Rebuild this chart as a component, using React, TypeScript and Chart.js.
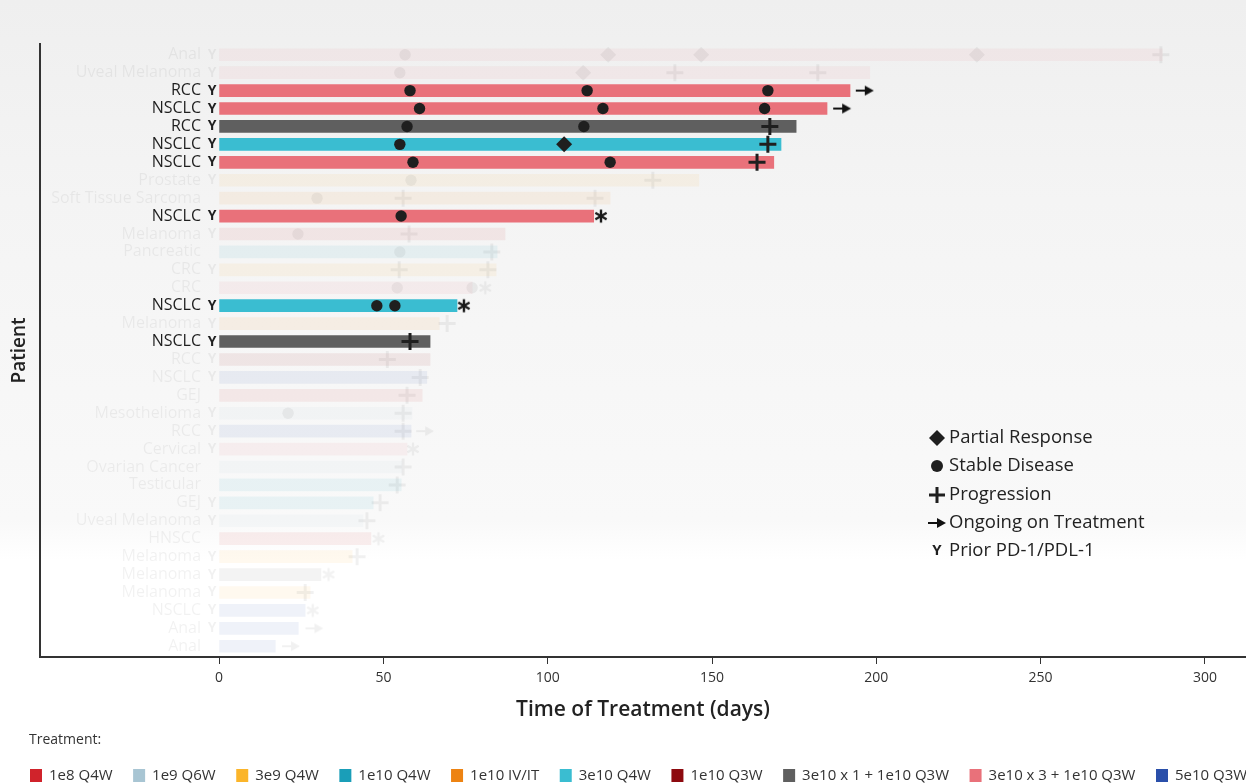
import React, { useEffect, useRef } from 'react';
import { Chart, registerables } from 'chart.js';

Chart.register(...registerables);

// ---------- data ----------
const treatments = ['1e8 Q4W', '1e9 Q6W', '3e9 Q4W', '1e10 Q4W', '1e10 IV/IT', '3e10 Q4W', '1e10 Q3W', '3e10 x 1 + 1e10 Q3W', '3e10 x 3 + 1e10 Q3W', '5e10 Q3W'];
const treatmentColors = ['#d0232b', '#a8c5d3', '#fbb52a', '#1a9eb8', '#ed8312', '#3abdd1', '#8d0a0f', '#5f5f5f', '#e9717a', '#2a4faa'];

const patients = ['Anal', 'Uveal Melanoma', 'RCC', 'NSCLC', 'RCC', 'NSCLC', 'NSCLC', 'Prostate', 'Soft Tissue Sarcoma', 'NSCLC', 'Melanoma', 'Pancreatic', 'CRC', 'CRC', 'NSCLC', 'Melanoma', 'NSCLC', 'RCC', 'NSCLC', 'GEJ', 'Mesothelioma', 'RCC', 'Cervical', 'Ovarian Cancer', 'Testicular', 'GEJ', 'Uveal Melanoma', 'HNSCC', 'Melanoma', 'Melanoma', 'Melanoma', 'NSCLC', 'Anal', 'Anal'];
const durations = [287, 198, 192, 185, 175.6, 171, 168.8, 146, 119, 114, 87, 84.6, 84.3, 77, 72.4, 67, 64.2, 64.2, 63.2, 61.8, 58.7, 58.4, 57.2, 55.6, 55.4, 46.9, 43.8, 46.2, 40.5, 31, 27.7, 26.2, 24.1, 17.1];
const rowTreatment = [8, 8, 8, 8, 7, 5, 8, 2, 4, 8, 0, 3, 2, 8, 5, 4, 7, 6, 9, 0, 1, 9, 8, 1, 3, 3, 1, 0, 2, 7, 2, 9, 9, 9];
const priorPD1 = [1, 1, 1, 1, 1, 1, 1, 1, 0, 1, 1, 0, 1, 0, 1, 1, 1, 1, 1, 0, 1, 1, 1, 0, 0, 1, 1, 0, 1, 1, 1, 1, 1, 0];
const highlightedRows = [2, 3, 4, 5, 6, 9, 14, 16];

// [row, day]
const partialResponse = [[0, 118.4], [0, 146.7], [0, 230.6], [1, 110.8], [5, 105]];
const stableDisease = [[0, 56.6], [1, 55], [2, 58.1], [2, 112], [2, 167], [3, 61], [3, 116.8], [3, 166], [4, 57.2], [4, 111], [5, 55], [6, 59], [6, 119], [7, 58.4], [8, 29.8], [9, 55.4], [10, 24], [11, 55], [13, 54.2], [13, 77], [14, 48], [14, 53.5], [20, 21]];
const progression = [[0, 286.6], [1, 138.7], [1, 182.2], [4, 167.6], [5, 167], [6, 163.7], [7, 132], [8, 56], [8, 114.4], [10, 57.8], [11, 83], [12, 54.8], [12, 81.8], [15, 69.4], [16, 58.1], [17, 51.2], [18, 61.2], [19, 57.2], [20, 56], [21, 56], [23, 56], [24, 54.2], [25, 49], [26, 45], [28, 42], [30, 26.2]];
const ongoing = [[2, 196.5], [3, 189.6], [21, 62.7], [32, 29], [33, 21.9]];
const asterisks = [[9, 116.2], [13, 81], [14, 74.5], [22, 59], [27, 48.5], [29, 33.3], [31, 28.5]];

const xTicks = [0, 50, 100, 150, 200, 250, 300];
const symbolLegend = ['Partial Response', 'Stable Disease', 'Progression', 'Ongoing on Treatment', 'Prior PD-1/PDL-1'];

// ---------- helpers ----------
const FONT = '"Open Sans", "DejaVu Sans", sans-serif';
const hiSet = new Set(highlightedRows);
const INK = '#1f1f1f';
const FADE_A = 0.055;
const FADE_INK = `rgba(0,0,0,${FADE_A})`;
const ink = (row: number) => (hiSet.has(row) ? INK : FADE_INK);

function hexA(hex: string, a: number) {
  const n = parseInt(hex.slice(1), 16);
  return `rgba(${(n >> 16) & 255},${(n >> 8) & 255},${n & 255},${a})`;
}

function makeArrow(color: string) {
  const c = document.createElement('canvas');
  c.width = 20; c.height = 12;
  const g = c.getContext('2d')!;
  g.strokeStyle = color; g.fillStyle = color; g.lineWidth = 2;
  g.beginPath(); g.moveTo(1, 6); g.lineTo(11, 6); g.stroke();
  g.beginPath(); g.moveTo(10, 1); g.lineTo(19, 6); g.lineTo(10, 11); g.closePath(); g.fill();
  return c;
}
function makeAsterisk(color: string) {
  const c = document.createElement('canvas');
  c.width = 16; c.height = 16;
  const g = c.getContext('2d')!;
  g.strokeStyle = color; g.lineWidth = 2.4;
  const r = 6.5;
  [90, 30, 150].forEach((deg) => {
    const a = (deg * Math.PI) / 180;
    g.beginPath();
    g.moveTo(8 - r * Math.cos(a), 8 - r * Math.sin(a));
    g.lineTo(8 + r * Math.cos(a), 8 + r * Math.sin(a));
    g.stroke();
  });
  return c;
}
function fadeCanvas(src: HTMLCanvasElement) {
  const c = document.createElement('canvas');
  c.width = src.width; c.height = src.height;
  const g = c.getContext('2d')!;
  g.globalAlpha = FADE_A;
  g.drawImage(src, 0, 0);
  return c;
}

const toPts = (arr: number[][]) => arr.map(([r, d]) => ({ x: d, y: r }));

export default function App() {
  const ref = useRef<HTMLCanvasElement>(null);

  useEffect(() => {
    document.body.style.margin = '0';
    const canvas = ref.current!;
    const arrowDark = makeArrow('#111');
    const arrowFaded = fadeCanvas(arrowDark);
    const starDark = makeAsterisk('#1a1a1a');
    const starFaded = fadeCanvas(starDark);

    const barSets = treatments.map((name, t) => ({
      type: 'bar',
      label: name,
      indexAxis: 'y',
      data: patients.map((_, i) => i).filter((i) => rowTreatment[i] === t).map((i) => ({ x: [0, durations[i]], y: i })),
      backgroundColor: (ctx: any) => {
        const row = ctx.raw ? ctx.raw.y : 0;
        return hiSet.has(row) ? treatmentColors[t] : hexA(treatmentColors[t], 0.075);
      },
      borderWidth: 0,
      barThickness: 12,
      grouped: false,
      order: 5,
    }));

    const markerSets = [
      {
        type: 'scatter', label: 'Stable Disease', data: toPts(stableDisease),
        pointStyle: 'circle', pointRadius: 5.7, pointBorderWidth: 0,
        pointBackgroundColor: (c: any) => ink(c.raw ? c.raw.y : 0), order: 1,
      },
      {
        type: 'scatter', label: 'Partial Response', data: toPts(partialResponse),
        pointStyle: 'rectRot', pointRadius: 8, pointBorderWidth: 0,
        pointBackgroundColor: (c: any) => ink(c.raw ? c.raw.y : 0), order: 1,
      },
      {
        type: 'scatter', label: 'Progression', data: toPts(progression),
        pointStyle: 'cross', pointRadius: 8.5, pointBorderWidth: 3,
        pointBorderColor: (c: any) => ink(c.raw ? c.raw.y : 0), order: 1,
      },
      {
        type: 'scatter', label: 'Ongoing', data: toPts(ongoing),
        pointStyle: (c: any) => (hiSet.has(c.raw ? c.raw.y : 0) ? arrowDark : arrowFaded), pointRadius: 8, order: 1,
      },
      {
        type: 'scatter', label: 'Asterisk', data: toPts(asterisks),
        pointStyle: (c: any) => (hiSet.has(c.raw ? c.raw.y : 0) ? starDark : starFaded), pointRadius: 8, order: 1,
      },
    ];

    const rowLabels = {
      id: 'rowLabels',
      beforeDatasetsDraw(chart: any) {
        const { ctx, scales } = chart;
        const x = scales.x, y = scales.y;
        ctx.save();
        ctx.textBaseline = 'middle';
        patients.forEach((name, i) => {
          const py = y.getPixelForValue(i);
          ctx.fillStyle = ink(i);
          ctx.textAlign = 'right';
          ctx.font = `16px ${FONT}`;
          ctx.fillText(name, x.getPixelForValue(-5.5), py);
          if (priorPD1[i]) {
            ctx.textAlign = 'center';
            ctx.font = `bold 14px ${FONT}`;
            ctx.fillText('Y', x.getPixelForValue(-2.1), py);
          }
        });
        ctx.restore();
      },
    };

    const legends = {
      id: 'legends',
      afterDraw(chart: any) {
        const ctx = chart.ctx;
        ctx.save();
        // symbol legend inside plot
        const lx = 937, tx = 949;
        const ys = [438, 466, 495, 523, 551];
        ctx.fillStyle = INK; ctx.strokeStyle = INK;
        ctx.beginPath();
        ctx.moveTo(lx - 8, ys[0]); ctx.lineTo(lx, ys[0] - 8); ctx.lineTo(lx + 8, ys[0]); ctx.lineTo(lx, ys[0] + 8); ctx.closePath(); ctx.fill();
        ctx.beginPath(); ctx.arc(lx, ys[1], 6, 0, Math.PI * 2); ctx.fill();
        ctx.lineWidth = 3;
        ctx.beginPath(); ctx.moveTo(lx - 8, ys[2]); ctx.lineTo(lx + 8, ys[2]); ctx.moveTo(lx, ys[2] - 8); ctx.lineTo(lx, ys[2] + 8); ctx.stroke();
        ctx.drawImage(arrowDark, lx - 10, ys[3] - 6);
        ctx.font = `bold 15px ${FONT}`; ctx.textAlign = 'center'; ctx.textBaseline = 'middle';
        ctx.fillText('Y', lx, ys[4]);
        ctx.font = `18.5px ${FONT}`; ctx.textAlign = 'left'; ctx.fillStyle = '#222';
        symbolLegend.forEach((s, i) => ctx.fillText(s, tx, ys[i]));

        // treatment legend
        ctx.font = `14px ${FONT}`; ctx.fillStyle = '#333';
        ctx.fillText('Treatment:', 29, 740);
        ctx.font = `15px ${FONT}`;
        const widths = treatments.map((t) => ctx.measureText(t).width);
        const box = 12, sp = 7, startX = 30, lastX = 1156;
        const used = widths.slice(0, -1).reduce((a, w) => a + box + sp + w, 0);
        const gap = (lastX - startX - used) / (treatments.length - 1);
        let x = startX;
        treatments.forEach((t, i) => {
          ctx.fillStyle = treatmentColors[i];
          ctx.fillRect(x, 769, box, 13);
          ctx.fillStyle = '#333';
          ctx.fillText(t, x + box + sp, 775.5);
          x += box + sp + widths[i] + gap;
        });
        ctx.restore();
      },
    };

    const chart = new Chart(canvas, {
      type: 'bar',
      data: { datasets: [...markerSets, ...barSets] as any },
      options: {
        responsive: false,
        animation: false,
        devicePixelRatio: 1,
        events: [],
        layout: { autoPadding: false, padding: { top: 44, left: 0, right: 0, bottom: 0 } },
        plugins: { legend: { display: false }, tooltip: { enabled: false } },
        scales: {
          x: {
            type: 'linear',
            position: 'bottom',
            offset: false,
            min: -54.5,
            max: 312.5,
            afterBuildTicks: (s: any) => { s.ticks = xTicks.map((v) => ({ value: v })); },
            ticks: { font: { family: FONT, size: 14 }, color: '#333', padding: 6, maxRotation: 0, autoSkip: false },
            grid: { display: true, offset: false, drawOnChartArea: false, drawTicks: true, tickLength: 7, color: '#333', lineWidth: 1 },
            border: { display: true, color: '#333', width: 2 },
            title: { display: true, text: 'Time of Treatment (days)', font: { family: FONT, size: 21, weight: '600' }, color: '#222', padding: { top: 0, bottom: 61 } },
            afterFit: (s: any) => { s.height = 127; s.paddingLeft = 0; s.paddingRight = 0; },
          },
          y: {
            type: 'linear',
            position: 'left',
            offset: false,
            min: -0.6,
            max: 33.6,
            reverse: true,
            ticks: { display: false },
            grid: { display: false, offset: false },
            border: { display: true, color: '#333', width: 2 },
            title: { display: true, text: 'Patient', font: { family: FONT, size: 19, weight: '600' }, color: '#222', padding: { top: 8, bottom: 0 } },
            afterFit: (s: any) => { s.width = 40; s.paddingTop = 0; s.paddingBottom = 0; },
          },
        },
      } as any,
      plugins: [rowLabels, legends],
    });
    return () => chart.destroy();
  }, []);

  return (
    <div
      style={{
        width: 1246,
        height: 784,
        position: 'relative',
        background: 'linear-gradient(to bottom, #efefef 0px, #f4f4f4 200px, #f9f9f9 520px, #ffffff 560px, #ffffff 784px)',
      }}
    >
      <canvas ref={ref} width={1246} height={784} style={{ display: 'block' }} />
    </div>
  );
}
